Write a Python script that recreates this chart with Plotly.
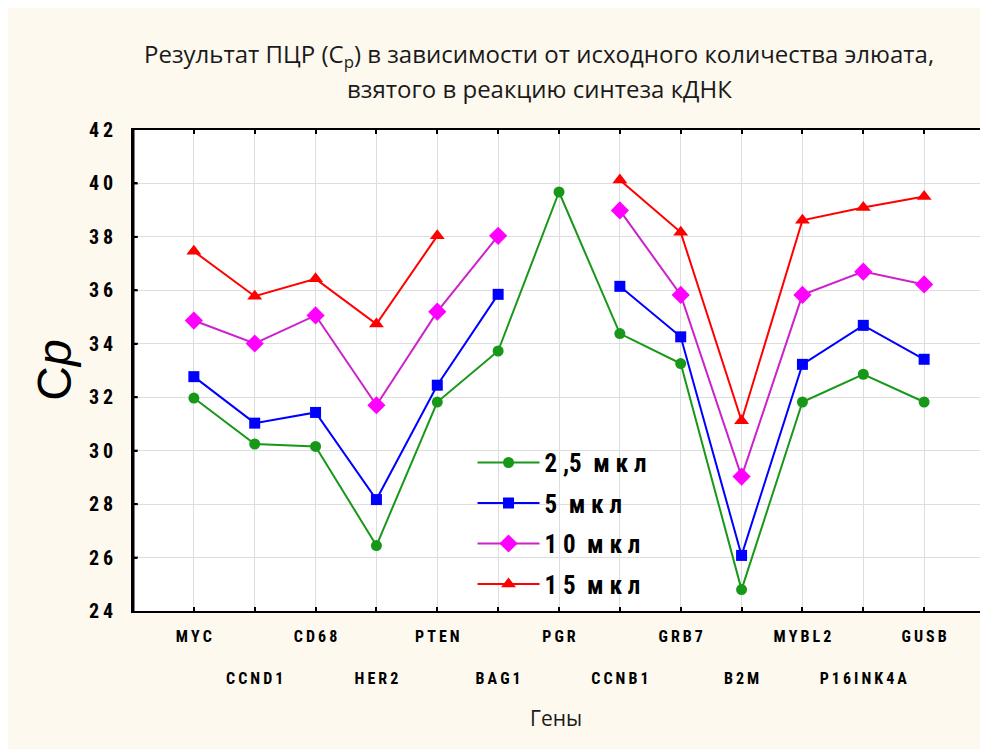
import plotly.graph_objects as go

genes = ["MYC", "CCND1", "CD68", "HER2", "PTEN", "BAG1", "PGR",
         "CCNB1", "GRB7", "B2M", "MYBL2", "P16INK4A", "GUSB"]

cp_2_5 = [31.97, 30.25, 30.16, 26.45, 31.82, 33.73, 39.68, 34.38, 33.26, 24.80, 31.82, 32.86, 31.82]
cp_5 = [32.77, 31.03, 31.43, 28.17, 32.45, 35.85, None, 36.15, 34.26, 26.08, 33.23, 34.69, 33.42]
cp_10 = [34.87, 34.01, 35.06, 31.70, 35.20, 38.04, None, 38.99, 35.83, 29.03, 35.83, 36.70, 36.22]
cp_15 = [37.46, 35.78, 36.43, 34.74, 38.04, None, None, 40.13, 38.17, 31.12, 38.62, 39.10, 39.51]

series_names = ["2 ,5  м к л", "5  м к л", "1 0  м к л", "1 5  м к л"]
y_ticks = [24, 26, 28, 30, 32, 34, 36, 38, 40, 42]
x_range = [-1, 13]

title_lines = ["Результат ПЦР (C<sub>p</sub>) в зависимости от исходного количества элюата,",
               "взятого в реакцию синтеза кДНК"]

NARROW = "Liberation Sans Narrow, Roboto Condensed, Roboto, sans-serif"
TS = "\u2009"


def spaced(s):
    return TS.join(list(s))


x_idx = list(range(len(genes)))
tick_text = [(spaced(g) if i % 2 == 0 else "<br><br>" + spaced(g)) for i, g in enumerate(genes)]

styles = [
    dict(color="#189818", mcolor="#189818", symbol="circle", size=11),
    dict(color="#0000ff", mcolor="#0000ff", symbol="square", size=11),
    dict(color="#cc22cc", mcolor="#ff00ff", symbol="diamond", size=14),
    dict(color="#ff0000", mcolor="#ff0000", symbol="triangle-up", size=13),
]
axis_pairs = [("x2", "y"), ("x", "y2"), ("x", "y"), ("x", "y")]

fig = go.Figure()
for i, (name, vals) in enumerate(zip(series_names, [cp_2_5, cp_5, cp_10, cp_15])):
    st = styles[i]
    fig.add_trace(go.Scatter(
        x=x_idx, y=vals, name=name, mode="lines+markers",
        connectgaps=False, legendgroup=f"g{i}",
        xaxis=axis_pairs[i][0], yaxis=axis_pairs[i][1],
        line=dict(color=st["color"], width=2),
        marker=dict(color=st["mcolor"], symbol=st["symbol"], size=st["size"]),
    ))

# vertical frame edges at the x-range ends
for xv in x_range:
    fig.add_shape(type="line", xref="x", yref="paper", x0=xv, x1=xv, y0=0, y1=1,
                  line=dict(color="#000000", width=3), layer="above")
# inside y ticks on both frame edges
span = x_range[1] - x_range[0]
for v in y_ticks[1:-1]:
    fig.add_shape(type="line", xref="x", yref="y", x0=x_range[0], x1=x_range[0] + 0.08,
                  y0=v, y1=v, line=dict(color="#000000", width=2), layer="above")
    fig.add_shape(type="line", xref="x", yref="y", x0=x_range[1] - 0.08, x1=x_range[1],
                  y0=v, y1=v, line=dict(color="#000000", width=2), layer="above")

TITLE_FONT = dict(family="Open Sans", size=24, color="#1a1a1a")
fig.add_annotation(text=title_lines[0], xref="paper", yref="paper", x=0.4766, y=1.156,
                   showarrow=False, xanchor="center", yanchor="middle", font=TITLE_FONT)
fig.add_annotation(text=title_lines[1], xref="paper", yref="paper", x=0.4766, y=1.087,
                   showarrow=False, xanchor="center", yanchor="middle", font=TITLE_FONT)
fig.add_annotation(text="Гены", xref="paper", yref="paper", x=0.497, y=-0.2225,
                   showarrow=False, xanchor="center", yanchor="middle",
                   font=dict(family="Open Sans", size=21, color="#1a1a1a"))
fig.add_annotation(text="C<i>p</i>", xref="paper", yref="paper", x=-0.0925, y=0.5,
                   showarrow=False, xanchor="center", yanchor="middle", textangle=-90,
                   font=dict(family="Liberation Sans, Arial, sans-serif", size=48, color="#000000"))

fig.update_layout(
    width=980, height=741,
    margin=dict(l=125, r=1, t=122, b=138),
    paper_bgcolor="#FEF9EF", plot_bgcolor="#ffffff",
    showlegend=True,
    legend=dict(x=0.3985, y=0.356, xanchor="left", yanchor="top",
                bgcolor="rgba(0,0,0,0)", borderwidth=0, tracegroupgap=5,
                font=dict(family=NARROW, size=25, color="#000000", weight="bold"),
                itemwidth=62),
    xaxis=dict(range=x_range, tickvals=x_idx, showticklabels=False,
               showgrid=True, gridcolor="#dedede", gridwidth=1, zeroline=False,
               showline=True, linecolor="#000000", linewidth=2, mirror="ticks",
               ticks="inside", ticklen=4, tickwidth=2, tickcolor="#000000",
               fixedrange=True),
    xaxis2=dict(range=x_range, overlaying="x", anchor="y", side="bottom",
                tickvals=x_idx, ticktext=tick_text,
                showgrid=False, zeroline=False, showline=False,
                ticks="outside", ticklen=11, tickcolor="rgba(0,0,0,0)",
                tickfont=dict(family=NARROW, size=16, color="#000000", weight="bold"),
                tickangle=0, fixedrange=True),
    yaxis=dict(range=[24, 42], tickvals=y_ticks, showticklabels=False,
               showgrid=True, gridcolor="#dedede", gridwidth=1, zeroline=False,
               showline=True, linecolor="#000000", linewidth=2, mirror=True,
               ticks="inside", ticklen=4, tickwidth=2, tickcolor="#000000",
               fixedrange=True),
    yaxis2=dict(range=[24, 42], overlaying="y", anchor="x", side="left",
                tickvals=y_ticks, ticktext=[spaced(str(v)) for v in y_ticks],
                showgrid=False, zeroline=False, showline=False,
                ticks="outside", ticklen=15, tickcolor="rgba(0,0,0,0)",
                tickfont=dict(family=NARROW, size=20, color="#000000", weight="bold"),
                fixedrange=True),
)

fig.write_html("out.html")
